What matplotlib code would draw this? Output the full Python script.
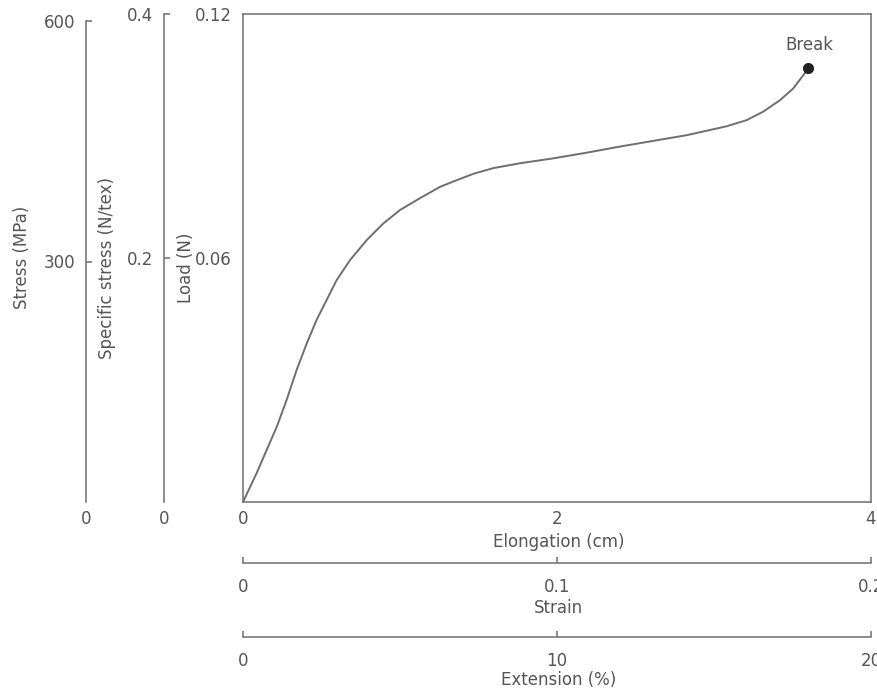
import matplotlib.pyplot as plt

# load-elongation curve
elongation = [0, 0.087, 0.151, 0.215, 0.278, 0.342, 0.406, 0.469, 0.533, 0.597,
              0.682, 0.788, 0.894, 1.000, 1.127, 1.255, 1.339, 1.467, 1.594, 1.764,
              1.976, 2.189, 2.401, 2.613, 2.826, 2.954, 3.081, 3.208, 3.314, 3.420,
              3.505, 3.548, 3.601]
load = [0, 0.0071, 0.0128, 0.0185, 0.0251, 0.0325, 0.0390, 0.0448, 0.0497, 0.0546,
        0.0595, 0.0644, 0.0685, 0.0718, 0.0747, 0.0775, 0.0788, 0.0807, 0.0821, 0.0833,
        0.0845, 0.0859, 0.0874, 0.0888, 0.0902, 0.0913, 0.0924, 0.0939, 0.0960, 0.0988,
        0.1017, 0.1039, 0.1066]
break_point = (3.601, 0.1066)

# axis ticks
load_ticks = [0.06, 0.12]
spec_ticks = [0.2, 0.4]
stress_ticks = [300, 600]
elong_ticks = [0, 2, 4]
strain_ticks = [0, 0.1, 0.2]
ext_ticks = [0, 10, 20]

GREY = '#555555'
LINE = '#6e6e6e'
FS = 12

plt.rcParams['font.family'] = 'DejaVu Sans'

fig = plt.figure(figsize=(8.77, 6.91), dpi=100)
ax = fig.add_axes([243 / 877, 189 / 691, 628 / 877, 488 / 691])

ax.plot(elongation, load, color=LINE, lw=1.4, solid_joinstyle='round')
ax.plot(*break_point, 'o', color='#222222', ms=7)
ax.annotate('Break', break_point, xytext=(1, 17), textcoords='offset points',
            ha='center', va='center', fontsize=FS, color=GREY)

ax.set_xlim(0, 4)
ax.set_ylim(0, 0.12)
ax.set_xticks(elong_ticks)
ax.set_xticklabels(['0', '2', '4'])
ax.set_yticks(load_ticks)
ax.set_yticklabels(['0.06', '0.12'])
ax.tick_params(axis='x', length=0, pad=6, labelsize=FS, labelcolor=GREY)
ax.tick_params(axis='y', length=0, pad=8, labelsize=FS, labelcolor=GREY)
for s in ax.spines.values():
    s.set_color(LINE)
    s.set_linewidth(1.1)

ax.set_xlabel('Elongation (cm)', fontsize=FS, color=GREY, va='center')
ax.xaxis.set_label_coords(0.503, -0.082)
ax.set_ylabel('Load (N)', fontsize=FS, color=GREY, va='center')
ax.yaxis.set_label_coords(-0.091, 0.48)


def left_axis(outward_px, top, bound, ticks, labels, label, label_x, label_y):
    a = ax.twinx()
    a.yaxis.tick_left()
    a.yaxis.set_label_position('left')
    for k in ['right', 'top', 'bottom']:
        a.spines[k].set_visible(False)
    a.spines['left'].set_position(('outward', outward_px * 0.72))
    a.spines['left'].set_color(LINE)
    a.spines['left'].set_linewidth(1.1)
    a.spines['left'].set_bounds(0, bound)
    a.set_ylim(0, top)
    a.set_yticks(ticks)
    a.set_yticklabels(labels)
    a.tick_params(axis='y', direction='in', length=4.5, width=1.1, color=LINE,
                  pad=8, labelsize=FS, labelcolor=GREY)
    a.set_ylabel(label, fontsize=FS, color=GREY, va='center')
    a.yaxis.set_label_coords(label_x, label_y)
    # zero label sits below the end of the axis
    ax.text(-outward_px / 628, -0.035, '0', transform=ax.transAxes, ha='center',
            va='center', fontsize=FS, color=GREY, clip_on=False)
    return a


ax_spec = left_axis(79, 0.4, 0.4, spec_ticks, ['0.2', '0.4'],
                    'Specific stress (N/tex)', -0.2166, 0.48)
ax_stress = left_axis(157, 600 * 488 / 481, 600, stress_ticks, ['300', '600'],
                      'Stress (MPa)', -0.352, 0.502)


def bottom_axis(outward_px, lim, ticks, labels, label, label_y, pad):
    a = ax.twiny()
    a.xaxis.tick_bottom()
    a.xaxis.set_label_position('bottom')
    for k in ['right', 'top', 'left']:
        a.spines[k].set_visible(False)
    a.spines['bottom'].set_position(('outward', outward_px * 0.72))
    a.spines['bottom'].set_color(LINE)
    a.spines['bottom'].set_linewidth(1.1)
    a.set_xlim(0, lim)
    a.set_xticks(ticks)
    a.set_xticklabels(labels)
    a.tick_params(axis='x', direction='in', length=4.5, width=1.1, color=LINE,
                  pad=pad, labelsize=FS, labelcolor=GREY)
    a.set_xlabel(label, fontsize=FS, color=GREY, va='center')
    a.xaxis.set_label_coords(0.503, label_y)
    return a


ax_strain = bottom_axis(61, 0.2, strain_ticks, ['0', '0.1', '0.2'], 'Strain', -0.217, 11)
ax_ext = bottom_axis(135, 20, ext_ticks, ['0', '10', '20'], 'Extension (%)', -0.365, 10.5)

fig.savefig('out.png', dpi=100)
